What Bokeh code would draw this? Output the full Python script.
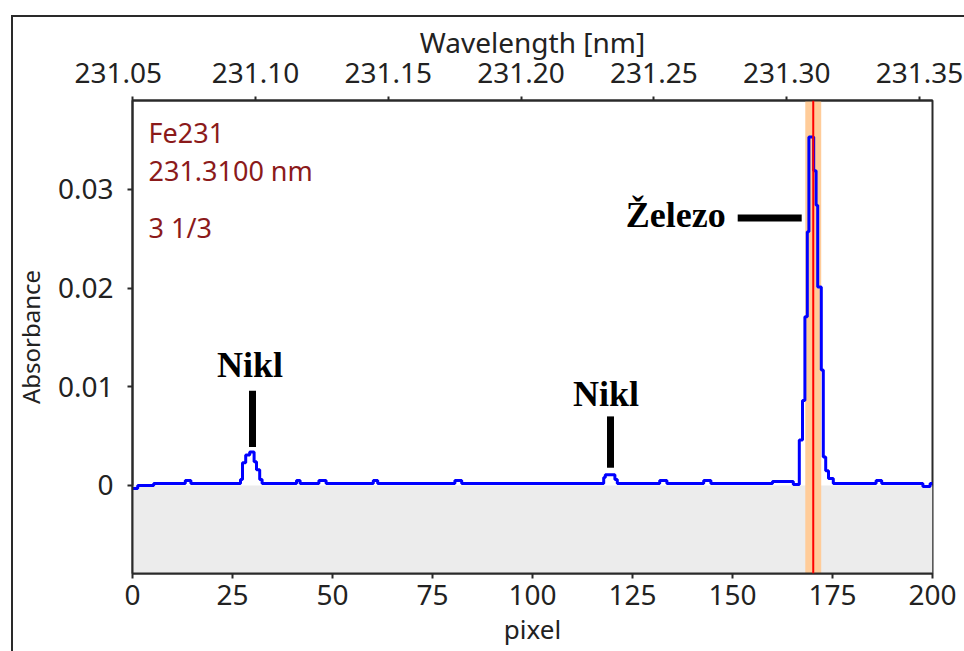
from bokeh.plotting import figure
from bokeh.models import (Range1d, LinearAxis, FixedTicker, BoxAnnotation, Span,
                          Label, PrintfTickFormatter, ColumnDataSource)
from bokeh.core.properties import value
from bokeh.embed import file_html
from bokeh.resources import INLINE

# Spectrum: step vertices (pixel position, absorbance held until the next vertex)
pixel = [0, 1.3, 5.3, 13.2, 14.6, 27.0, 27.5, 28.3, 29.3, 30.4, 31.0, 31.8, 32.4,
         41.0, 41.9, 46.6, 48.4, 60.2, 61.3, 80.6, 82.3, 117.8, 118.2, 120.6, 121.2,
         131.8, 133.6, 142.8, 144.6, 160.0, 165.2, 166.7, 167.5, 168.1, 168.7, 169.1,
         170.3, 170.9, 171.3, 172.2, 172.7, 173.3, 174.0, 175.2, 185.9, 187.3, 197.6,
         199.4, 200]
absorbance = [-0.0003, 0.0000, 0.0002, 0.0005, 0.0002, 0.0006, 0.0023, 0.0031, 0.0034,
              0.0024, 0.0016, 0.0006, 0.0002, 0.0005, 0.0002, 0.0005, 0.0002, 0.0005,
              0.0002, 0.0005, 0.0002, 0.0008, 0.0011, 0.0006, 0.0002, 0.0005, 0.0002,
              0.0005, 0.0002, 0.0004, 0.0001, 0.0046, 0.0086, 0.0171, 0.0257, 0.0353,
              0.0319, 0.0284, 0.0201, 0.0117, 0.0029, 0.0015, 0.0007, 0.0002, 0.0005,
              0.0002, -0.0001, 0.0002, 0.0002]

# Axes
pixel_ticks = [0, 25, 50, 75, 100, 125, 150, 175, 200]
absorbance_ticks = [0, 0.01, 0.02, 0.03]
wavelength_ticks = [231.10, 231.15, 231.20, 231.25, 231.30, 231.35]
wavelength_first_label = 231.05
pixel_span = (0, 200)
wavelength_span = (231.0537, 231.3549)
absorbance_span = (-0.008916, 0.039007)

# Selected analytical line
line_wavelength = 231.31
line_window = (231.307, 231.313)
info_lines = ["Fe231", "231.3100 nm", "3 1/3"]

# Peak annotations
peak_names = ["Nikl", "Nikl", "Železo"]
peak_text_x = [29.4, 118.4, 135.8]
peak_text_y = [0.0122, 0.0093, 0.0274]
marker_x0 = [30.0, 119.5, 151.3]
marker_x1 = [30.0, 119.5, 167.3]
marker_y0 = [0.0039, 0.0018, 0.0271]
marker_y1 = [0.0096, 0.0070, 0.0271]

TICK_FONT = "Noto Sans"
DARK = "#2a2a2a"

p = figure(width=964, height=651, output_backend="svg", toolbar_location=None,
           x_range=Range1d(*pixel_span), y_range=Range1d(*absorbance_span),
           min_border_left=132, min_border_right=32, min_border_top=100,
           min_border_bottom=78, background_fill_color="white",
           border_fill_color=None)
# Panel border (left and top edges) painted behind the transparent canvas
p.styles = {
    "background": (f"linear-gradient({DARK}, {DARK}) 11px 15px / 2px 100% no-repeat, "
                   f"linear-gradient({DARK}, {DARK}) 11px 15px / 100% 2px no-repeat, "
                   "white"),
}
p.extra_x_ranges = {"wl": Range1d(*wavelength_span)}
p.grid.visible = False
p.outline_line_color = DARK
p.outline_line_width = 2


def style_axis(ax, label_size="28px"):
    ax.axis_line_color = DARK
    ax.axis_line_width = 2
    ax.major_tick_line_color = DARK
    ax.major_tick_line_width = 2
    ax.major_tick_in = 0
    ax.major_tick_out = 5
    ax.minor_tick_line_color = None
    ax.major_label_text_font = TICK_FONT
    ax.major_label_text_font_size = label_size
    ax.major_label_text_color = "#222222"
    ax.axis_label_text_font = TICK_FONT
    ax.axis_label_text_font_style = "normal"
    ax.axis_label_text_color = "#222222"


xa = p.xaxis[0]
style_axis(xa)
xa.ticker = FixedTicker(ticks=pixel_ticks)
xa.axis_label = "pixel"
xa.axis_label_text_font_size = "26px"
xa.major_label_standoff = 6
xa.axis_label_standoff = 3

ya = p.yaxis[0]
style_axis(ya)
ya.ticker = FixedTicker(ticks=absorbance_ticks)
ya.major_label_overrides = {0: "0"}
ya.axis_label = "Absorbance"
ya.axis_label_text_font_size = "24px"
ya.major_label_standoff = 14
ya.axis_label_standoff = 8

# Wavelength axis; its first label belongs to 231.05, just left of the frame edge
first_tick = wavelength_span[0] + 0.0001
nbsp = "\u00a0"
top = LinearAxis(x_range_name="wl",
                 ticker=FixedTicker(ticks=[first_tick] + wavelength_ticks),
                 formatter=PrintfTickFormatter(format="%.2f"),
                 axis_label="Wavelength [nm]")
top.major_label_overrides = {first_tick: f"{wavelength_first_label:.2f}" + nbsp * 4}
style_axis(top)
top.major_tick_out = 4
top.major_label_standoff = 6
top.axis_label_text_font_size = "28px"
top.axis_label_standoff = -11
p.add_layout(top, "above")

# Grey region below zero absorbance
p.add_layout(BoxAnnotation(top=0, fill_color="#ececec", fill_alpha=1,
                           line_color=None, level="underlay"))
# Integration window around the selected line
p.add_layout(BoxAnnotation(left=line_window[0], right=line_window[1],
                           x_range_name="wl", fill_color="#ffcc99", fill_alpha=1,
                           line_color=None, level="underlay"))

src = ColumnDataSource(dict(x=pixel, y=absorbance))
p.step("x", "y", source=src, mode="after", line_color="#0000ff", line_width=3)

p.add_layout(Span(location=line_wavelength, dimension="height", x_range_name="wl",
                  line_color="#ff0000", line_width=2))

# Peak markers and names
p.segment(x0=marker_x0, y0=marker_y0, x1=marker_x1, y1=marker_y1,
          line_color="black", line_width=7)
p.text(x=peak_text_x, y=peak_text_y, text=peak_names,
       text_font=value("Liberation Serif"), text_font_style="bold",
       text_font_size="36px", text_color="black", text_align="center",
       text_baseline="alphabetic")

# Line information block
info_y = [0.03575, 0.0319, 0.0261]
for txt, yy in zip(info_lines, info_y):
    p.add_layout(Label(x=4, y=yy, text=txt, text_font=TICK_FONT,
                       text_font_size="27px", text_color="#8b1a1a",
                       text_baseline="alphabetic"))

open("out.html", "w").write(file_html(p, INLINE))
